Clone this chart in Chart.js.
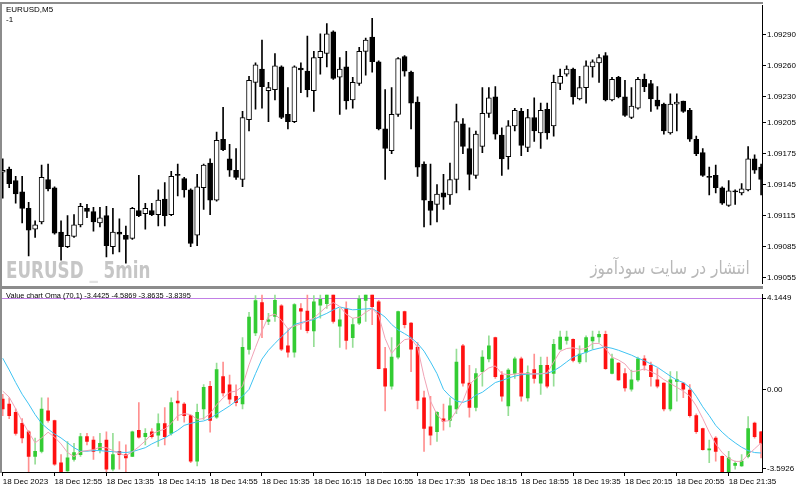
<!DOCTYPE html>
<html>
<head>
<meta charset="utf-8">
<title>EURUSD M5 - Value chart</title>
<script src="https://cdn.jsdelivr.net/npm/chart.js@4.4.1/dist/chart.umd.min.js"></script>
<style>
  html, body { margin: 0; padding: 0; background: #fff; }
  #wrap { position: relative; width: 800px; height: 490px; overflow: hidden; font-family: "Liberation Sans", Arial, sans-serif; }
  canvas { position: absolute; left: 0; }
  #priceChart { top: 0; }
  #valueChart { top: 289px; }
  .frame { position: absolute; background: #8c8c8c; z-index: 2; }
  .txt { position: absolute; font-size: 8px; color: #000; white-space: nowrap; line-height: 1; z-index: 3; }
  .mark { position: absolute; white-space: nowrap; line-height: 1; z-index: 1; }
</style>
</head>
<body>
<div id="wrap">
  <canvas id="priceChart" width="800" height="289"></canvas>
  <canvas id="valueChart" width="800" height="201"></canvas>

  <div class="frame" style="left:0;top:2px;width:763px;height:2px"></div>
  <div class="frame" style="left:0;top:2px;width:2px;height:471px"></div>
  <div class="frame" style="left:0;top:286px;width:763px;height:3px"></div>

  <div class="txt" style="left:6px;top:6px">EURUSD,M5</div>
  <div class="txt" style="left:6px;top:16px">-1</div>
  <div class="txt" style="left:6px;top:292px;font-size:7.4px">Value chart Oma (70,1) -3.4425 -4.5869 -3.8635 -3.8395</div>

  <div class="mark" style="left:6px;top:259px;font-family:'Liberation Sans Narrow','DejaVu Sans Condensed',sans-serif;font-stretch:condensed;font-weight:bold;font-size:23px;color:#c6c6c6;transform:scaleX(0.81);transform-origin:0 0">EURUSD <span style="color:#e2e2e2">_</span> 5min</div>
  <div class="mark" dir="rtl" style="right:50px;top:259px;font-family:'DejaVu Sans',sans-serif;font-size:18px;color:#b8b8b8;transform:scaleX(0.85);transform-origin:100% 0">انتشار در سایت سودآموز</div>
</div>

<script>
// EURUSD M5 candles, 18 Dec 2023 12:15 .. 22:00
const open = [
  1.09157,1.09160,1.09149,1.09138,1.09122,1.09102,1.09109,1.09150,1.09142,1.09099,
  1.09085,1.09095,1.09106,1.09122,1.09119,1.09108,1.09115,1.09085,1.09099,1.09096,
  1.09093,1.09120,1.09117,1.09120,1.09116,1.09131,1.09116,1.09155,1.09151,1.09140,
  1.09096,1.09142,1.09166,1.09130,1.09189,1.09170,1.09159,1.09150,1.09208,1.09244,
  1.09257,1.09236,1.09237,1.09259,1.09213,1.09206,1.09258,1.09255,1.09236,1.09268,
  1.09272,1.09293,1.09249,1.09259,1.09227,1.09243,1.09274,1.09288,1.09264,1.09199,
  1.09178,1.09213,1.09269,1.09254,1.09225,1.09165,1.09129,1.09126,1.09137,1.09135,
  1.09150,1.09204,1.09180,1.09154,1.09182,1.09214,1.09230,1.09193,1.09172,1.09202,
  1.09216,1.09181,1.09210,1.09195,1.09218,1.09202,1.09243,1.09252,1.09257,1.09228,
  1.09239,1.09259,1.09263,1.09270,1.09227,1.09249,1.09230,1.09210,1.09219,1.09247,
  1.09243,1.09227,1.09223,1.09195,1.09223,1.09226,1.09217,1.09189,1.09176,1.09153,
  1.09154,1.09142,1.09125,1.09139,1.09137,1.09140,1.09170,1.09162
];
const high = [
  1.09170,1.09162,1.09153,1.09153,1.09128,1.09110,1.09164,1.09165,1.09143,1.09110,
  1.09115,1.09116,1.09127,1.09126,1.09123,1.09123,1.09124,1.09122,1.09112,1.09105,
  1.09123,1.09154,1.09127,1.09127,1.09140,1.09147,1.09158,1.09165,1.09152,1.09141,
  1.09155,1.09165,1.09170,1.09196,1.09220,1.09184,1.09180,1.09216,1.09250,1.09263,
  1.09285,1.09244,1.09272,1.09260,1.09239,1.09260,1.09263,1.09289,1.09274,1.09291,
  1.09301,1.09294,1.09268,1.09274,1.09249,1.09278,1.09287,1.09306,1.09265,1.09237,
  1.09239,1.09268,1.09270,1.09255,1.09230,1.09167,1.09165,1.09145,1.09155,1.09166,
  1.09223,1.09209,1.09200,1.09197,1.09239,1.09239,1.09240,1.09200,1.09207,1.09219,
  1.09219,1.09218,1.09229,1.09224,1.09224,1.09251,1.09257,1.09260,1.09258,1.09250,
  1.09265,1.09266,1.09271,1.09273,1.09249,1.09250,1.09246,1.09239,1.09249,1.09252,
  1.09246,1.09240,1.09224,1.09233,1.09233,1.09226,1.09219,1.09192,1.09180,1.09162,
  1.09164,1.09143,1.09149,1.09140,1.09146,1.09182,1.09174,1.09165
];
const low = [
  1.09132,1.09142,1.09127,1.09108,1.09076,1.09094,1.09107,1.09139,1.09097,1.09072,
  1.09084,1.09094,1.09104,1.09113,1.09100,1.09104,1.09075,1.09078,1.09080,1.09069,
  1.09092,1.09114,1.09102,1.09115,1.09105,1.09105,1.09115,1.09134,1.09133,1.09085,
  1.09086,1.09121,1.09116,1.09129,1.09178,1.09153,1.09150,1.09143,1.09197,1.09218,
  1.09219,1.09206,1.09227,1.09209,1.09199,1.09205,1.09234,1.09230,1.09216,1.09252,
  1.09259,1.09247,1.09213,1.09218,1.09219,1.09241,1.09251,1.09254,1.09198,1.09150,
  1.09175,1.09211,1.09250,1.09199,1.09153,1.09104,1.09106,1.09109,1.09121,1.09126,
  1.09137,1.09175,1.09140,1.09151,1.09176,1.09210,1.09189,1.09154,1.09160,1.09197,
  1.09173,1.09177,1.09187,1.09180,1.09189,1.09192,1.09237,1.09250,1.09223,1.09227,
  1.09224,1.09249,1.09244,1.09226,1.09226,1.09229,1.09211,1.09209,1.09218,1.09235,
  1.09216,1.09218,1.09194,1.09194,1.09197,1.09215,1.09187,1.09173,1.09153,1.09135,
  1.09137,1.09126,1.09124,1.09126,1.09135,1.09139,1.09156,1.09135
];
const close = [
  1.09159,1.09146,1.09136,1.09122,1.09101,1.09106,1.09152,1.09141,1.09098,1.09085,
  1.09096,1.09106,1.09124,1.09119,1.09109,1.09113,1.09086,1.09099,1.09097,1.09092,
  1.09122,1.09115,1.09122,1.09116,1.09130,1.09115,1.09153,1.09154,1.09140,1.09088,
  1.09143,1.09164,1.09130,1.09188,1.09179,1.09159,1.09152,1.09210,1.09246,1.09261,
  1.09240,1.09239,1.09260,1.09210,1.09206,1.09259,1.09256,1.09237,1.09268,1.09274,
  1.09291,1.09248,1.09257,1.09226,1.09244,1.09274,1.09285,1.09264,1.09199,1.09180,
  1.09213,1.09267,1.09255,1.09224,1.09162,1.09130,1.09120,1.09136,1.09133,1.09150,
  1.09206,1.09182,1.09155,1.09194,1.09214,1.09229,1.09194,1.09170,1.09202,1.09217,
  1.09183,1.09210,1.09197,1.09217,1.09195,1.09244,1.09250,1.09257,1.09230,1.09239,
  1.09260,1.09264,1.09268,1.09227,1.09247,1.09230,1.09212,1.09221,1.09247,1.09240,
  1.09228,1.09221,1.09197,1.09223,1.09225,1.09216,1.09189,1.09175,1.09154,1.09152,
  1.09142,1.09127,1.09139,1.09138,1.09141,1.09170,1.09159,1.09150
];

// Value chart bars (same bars, rescaled)
const vOpen = [
  -0.43,-0.66,-1.03,-1.53,-1.91,-3.02,-2.80,-0.96,-1.40,-3.31,
  -3.68,-3.16,-2.94,-2.13,-2.28,-2.72,-2.28,-3.60,-2.80,-2.94,
  -3.02,-1.84,-2.13,-1.91,-2.06,-1.54,-1.98,-0.52,-0.66,-1.18,
  -3.24,-0.87,0.15,-1.25,0.59,0.22,-0.30,-0.65,1.82,2.57,
  3.94,3.09,3.31,3.79,1.98,1.69,3.67,3.55,2.65,3.82,
  3.89,4.38,2.87,3.67,2.35,3.01,4.04,4.33,3.97,0.95,
  0.15,1.47,3.53,3.01,1.91,-0.37,-1.69,-1.91,-1.32,-1.40,
  -0.87,1.98,0.29,-0.81,0.81,1.39,2.35,0.66,-0.74,0.73,
  1.39,-0.38,0.91,0.29,1.10,0.73,1.83,2.23,2.28,1.25,
  1.69,2.20,2.38,2.50,0.73,1.20,0.73,0.00,0.44,1.39,
  1.10,0.44,0.29,-0.88,0.37,0.29,0.00,-1.18,-1.76,-2.72,
  -2.20,-3.02,-3.75,-3.43,-3.46,-3.02,-1.52,-1.91
];
const vHigh = [
  -0.21,-0.37,-0.87,-1.31,-1.85,-2.19,-0.37,-0.37,-1.38,-2.94,
  -2.35,-2.43,-1.98,-1.98,-2.13,-1.98,-1.91,-1.98,-2.35,-2.50,
  -1.88,-0.59,-1.76,-1.76,-1.10,-0.81,-0.37,-0.07,-0.59,-1.15,
  -0.66,0.23,0.37,1.20,1.25,0.66,0.22,2.35,3.50,4.25,
  4.33,3.45,4.41,3.85,2.72,3.89,3.89,4.38,4.26,4.41,
  4.55,4.55,3.67,3.97,3.23,4.26,4.55,4.55,4.04,1.91,
  2.35,3.55,3.55,3.03,2.13,-0.07,-0.30,-1.00,-0.66,-0.37,
  1.83,2.05,1.10,0.95,1.76,2.43,2.38,0.81,0.95,1.47,
  1.47,1.07,1.61,1.47,1.47,2.28,2.65,2.65,2.30,1.98,
  2.43,2.65,2.65,2.65,1.61,1.22,0.95,0.88,1.47,1.54,
  1.25,0.95,0.31,0.81,0.81,0.31,0.23,-1.10,-1.74,-2.28,
  -2.13,-3.00,-2.80,-3.24,-2.94,-1.22,-1.47,-1.89
];
const vLow = [
  -1.18,-1.32,-2.06,-2.41,-3.73,-3.38,-2.87,-1.47,-3.43,-3.75,
  -3.70,-3.24,-3.02,-2.50,-3.16,-2.87,-3.73,-3.68,-3.60,-3.73,
  -3.04,-2.20,-2.50,-2.20,-2.57,-2.50,-2.06,-1.40,-1.47,-3.31,
  -3.46,-1.35,-1.93,-1.31,-0.30,-0.65,-0.74,-0.87,1.60,2.44,
  2.35,2.94,3.09,1.76,1.47,1.47,2.72,2.57,1.94,3.23,
  3.67,3.01,1.91,1.83,1.91,2.94,3.09,2.94,0.93,-0.96,
  0.00,1.39,2.79,0.81,-0.88,-2.80,-2.50,-2.35,-1.84,-1.69,
  -1.09,0.15,-1.25,-0.96,0.15,1.25,0.51,-0.52,-1.18,0.51,
  -0.52,-0.52,0.29,-0.22,0.07,0.15,1.80,2.05,1.25,1.17,
  1.25,1.83,2.13,0.91,0.71,0.41,-0.07,-0.07,0.37,0.88,
  0.15,0.07,-0.96,-0.96,-0.52,-0.37,-1.25,-1.98,-2.74,-3.31,
  -3.24,-3.77,-3.77,-3.60,-3.48,-3.09,-2.20,-3.09
];
const vClose = [
  -0.87,-1.18,-1.98,-2.19,-3.02,-2.80,-0.88,-1.40,-3.38,-3.73,
  -3.09,-2.85,-2.13,-2.35,-2.80,-2.43,-3.60,-2.94,-2.94,-3.09,
  -1.91,-2.15,-1.98,-2.13,-1.54,-2.13,-0.59,-0.60,-1.18,-3.24,
  -1.03,0.10,-1.40,0.91,-0.15,-0.43,-0.59,1.91,3.28,4.03,
  3.16,3.16,4.04,1.83,1.69,3.85,3.55,2.67,3.97,4.08,
  4.38,3.09,3.16,2.23,2.94,4.11,4.33,3.75,0.95,0.15,
  1.47,3.53,2.94,1.83,-0.49,-1.76,-2.06,-1.03,-1.43,-0.74,
  1.25,0.29,-0.81,0.73,1.47,1.98,0.59,-0.30,0.88,1.39,
  -0.30,0.76,0.51,1.10,0.15,2.05,2.38,2.38,1.32,1.61,
  2.35,2.38,2.50,0.95,1.39,0.44,0.07,0.44,1.39,1.10,
  0.59,0.15,-0.88,0.44,0.45,0.00,-1.18,-1.91,-2.72,-2.68,
  -2.80,-3.75,-3.09,-3.34,-3.24,-1.76,-2.13,-2.43
];
// fast (pink) and slow (blue) averages
const fastLine = [
  -0.07,-0.34,-0.87,-1.44,-1.93,-2.41,-2.19,-1.93,-2.15,-2.46,
  -2.85,-3.03,-2.81,-2.76,-2.72,-2.61,-2.63,-2.76,-2.90,-2.99,
  -2.81,-2.59,-2.32,-2.01,-1.88,-1.79,-1.53,-1.18,-1.09,-1.13,
  -1.35,-1.31,-1.09,-0.69,-0.38,-0.12,-0.07,0.15,1.12,1.91,
  2.66,3.32,3.41,3.14,2.75,2.88,2.97,3.10,3.23,3.50,
  3.76,3.94,3.76,3.41,3.23,3.28,3.50,3.67,3.36,2.31,
  1.64,2.00,2.26,2.31,1.91,0.59,-0.52,-1.13,-1.44,-1.40,
  -0.96,-0.52,0.23,0.50,0.76,0.98,1.07,0.72,0.67,0.70,
  0.74,0.72,0.71,0.71,0.76,1.25,1.73,1.86,1.89,1.82,
  1.86,2.09,2.09,1.86,1.47,1.34,1.16,0.81,0.85,0.94,
  0.81,0.67,0.45,0.28,0.10,-0.07,-0.30,-0.74,-1.31,-1.93,
  -2.46,-2.85,-3.12,-3.25,-3.25,-2.94,-2.68,-2.41
];
const slowLine = [
  1.42,0.89,0.32,-0.21,-0.65,-1.13,-1.53,-1.79,-2.01,-2.19,
  -2.41,-2.63,-2.79,-2.79,-2.76,-2.76,-2.79,-2.81,-2.83,-2.85,
  -2.81,-2.72,-2.63,-2.46,-2.32,-2.19,-2.01,-1.84,-1.62,-1.53,
  -1.46,-1.42,-1.31,-1.11,-0.93,-0.74,-0.52,-0.30,0.01,0.72,
  1.38,1.78,2.09,2.39,2.66,2.95,3.03,3.10,3.17,3.32,
  3.45,3.61,3.74,3.67,3.61,3.63,3.65,3.67,3.50,3.28,
  2.95,2.70,2.53,2.35,2.09,1.74,1.25,0.72,0.01,-0.30,
  -0.52,-0.58,-0.47,-0.25,-0.12,0.10,0.32,0.41,0.52,0.61,
  0.67,0.70,0.71,0.72,0.73,0.85,1.03,1.25,1.47,1.58,
  1.69,1.80,1.87,1.93,1.87,1.78,1.67,1.56,1.42,1.31,
  1.16,1.01,0.81,0.61,0.43,0.32,0.10,-0.30,-0.78,-1.18,
  -1.62,-1.93,-2.19,-2.41,-2.61,-2.76,-2.85,-2.87
];

const priceTicks = [1.09290, 1.09260, 1.09230, 1.09205, 1.09175, 1.09145, 1.09115, 1.09085, 1.09055];
const valueTicks = [4.1449, 0, -3.5926];
const levelValue = 4.1449;
const timeLabels = ['18 Dec 2023', '18 Dec 12:55', '18 Dec 13:35', '18 Dec 14:15', '18 Dec 14:55',
  '18 Dec 15:35', '18 Dec 16:15', '18 Dec 16:55', '18 Dec 17:35', '18 Dec 18:15',
  '18 Dec 18:55', '18 Dec 19:35', '18 Dec 20:15', '18 Dec 20:55', '18 Dec 21:35'];
const barsPerLabel = 8;

const idx = open.map((_, i) => i);
const xMin = -0.11, xMax = 117.14;
const axisFont = { family: 'Liberation Sans', size: 8 };

function bodyRange(o, c) {
  return [Math.min(o, c), Math.max(o, c)];
}

// price panel
new Chart(document.getElementById('priceChart'), {
  type: 'bar',
  data: {
    datasets: [
      {
        label: 'wick',
        data: idx.map(i => ({ x: i, y: [low[i], high[i]] })),
        backgroundColor: '#000',
        barThickness: 1,
        grouped: false,
        order: 2
      },
      {
        label: 'body',
        data: idx.map(i => ({ x: i, y: bodyRange(open[i], close[i]) })),
        backgroundColor: idx.map(i => close[i] >= open[i] ? '#fff' : '#000'),
        borderColor: '#000',
        borderWidth: 1,
        borderSkipped: false,
        barThickness: 5,
        minBarLength: 1,
        grouped: false,
        order: 1
      }
    ]
  },
  options: {
    responsive: false,
    animation: false,
    layout: { padding: { left: 2, top: 4, right: 0, bottom: 2 } },
    plugins: { legend: { display: false }, tooltip: { enabled: false } },
    scales: {
      x: { type: 'linear', min: xMin, max: xMax, offset: false, display: false },
      y: {
        position: 'right',
        min: 1.090496,
        max: 1.093182,
        afterFit: s => { s.width = 38; },
        afterBuildTicks: s => { s.ticks = priceTicks.map(v => ({ value: v })); },
        ticks: { callback: v => v.toFixed(5), color: '#000', font: axisFont, padding: 1 },
        grid: { drawOnChartArea: false, tickLength: 4, color: '#000' },
        border: { color: '#000' }
      }
    }
  }
});

// violet level line in the value panel
const levelLine = {
  id: 'levelLine',
  beforeDatasetsDraw(chart) {
    const a = chart.chartArea;
    const y = Math.round(chart.scales.y.getPixelForValue(levelValue)) + 0.5;
    const ctx = chart.ctx;
    ctx.save();
    ctx.strokeStyle = '#c27fe6';
    ctx.lineWidth = 1;
    ctx.beginPath();
    ctx.moveTo(a.left, y);
    ctx.lineTo(a.right, y);
    ctx.stroke();
    ctx.restore();
  }
};

const isUp = idx.map(i => vClose[i] >= vOpen[i]);

// value chart panel
new Chart(document.getElementById('valueChart'), {
  type: 'bar',
  data: {
    datasets: [
      {
        type: 'line',
        label: 'fast',
        data: idx.map(i => ({ x: i, y: fastLine[i] })),
        borderColor: '#f0a3b6',
        borderWidth: 1,
        pointRadius: 0,
        order: 1
      },
      {
        type: 'line',
        label: 'slow',
        data: idx.map(i => ({ x: i, y: slowLine[i] })),
        borderColor: '#3fc3f2',
        borderWidth: 1,
        pointRadius: 0,
        order: 1
      },
      {
        label: 'range',
        data: idx.map(i => ({ x: i, y: [vLow[i], vHigh[i]] })),
        backgroundColor: isUp.map(u => u ? '#96de96' : '#ff9090'),
        barThickness: 1,
        grouped: false,
        order: 3
      },
      {
        label: 'value',
        data: idx.map(i => ({ x: i, y: bodyRange(vOpen[i], vClose[i]) })),
        backgroundColor: isUp.map(u => u ? '#33cc33' : '#ff1010'),
        barThickness: 3,
        minBarLength: 1,
        grouped: false,
        order: 2
      }
    ]
  },
  options: {
    responsive: false,
    animation: false,
    layout: { padding: { left: 2, top: 2, right: 0, bottom: 0 } },
    plugins: { legend: { display: false }, tooltip: { enabled: false } },
    scales: {
      x: {
        type: 'linear',
        min: xMin,
        max: xMax,
        offset: false,
        afterFit: s => { s.height = 18; },
        afterBuildTicks: s => { s.ticks = timeLabels.map((_, k) => ({ value: k * barsPerLabel })); },
        ticks: {
          callback: (v, k) => timeLabels[k],
          align: 'start',
          maxRotation: 0,
          autoSkip: false,
          color: '#000',
          font: axisFont,
          padding: 1
        },
        grid: { drawOnChartArea: false, tickLength: 4, color: '#000', offset: false },
        border: { color: '#000' }
      },
      y: {
        position: 'right',
        min: -3.73,
        max: 4.29,
        afterFit: s => { s.width = 38; },
        afterBuildTicks: s => { s.ticks = valueTicks.map(v => ({ value: v })); },
        ticks: {
          callback: v => v === 0 ? '0.00' : v.toFixed(4),
          color: '#000',
          font: axisFont,
          padding: 1
        },
        grid: { drawOnChartArea: false, tickLength: 4, color: '#000' },
        border: { color: '#000' }
      }
    }
  },
  plugins: [levelLine]
});
</script>
</body>
</html>
